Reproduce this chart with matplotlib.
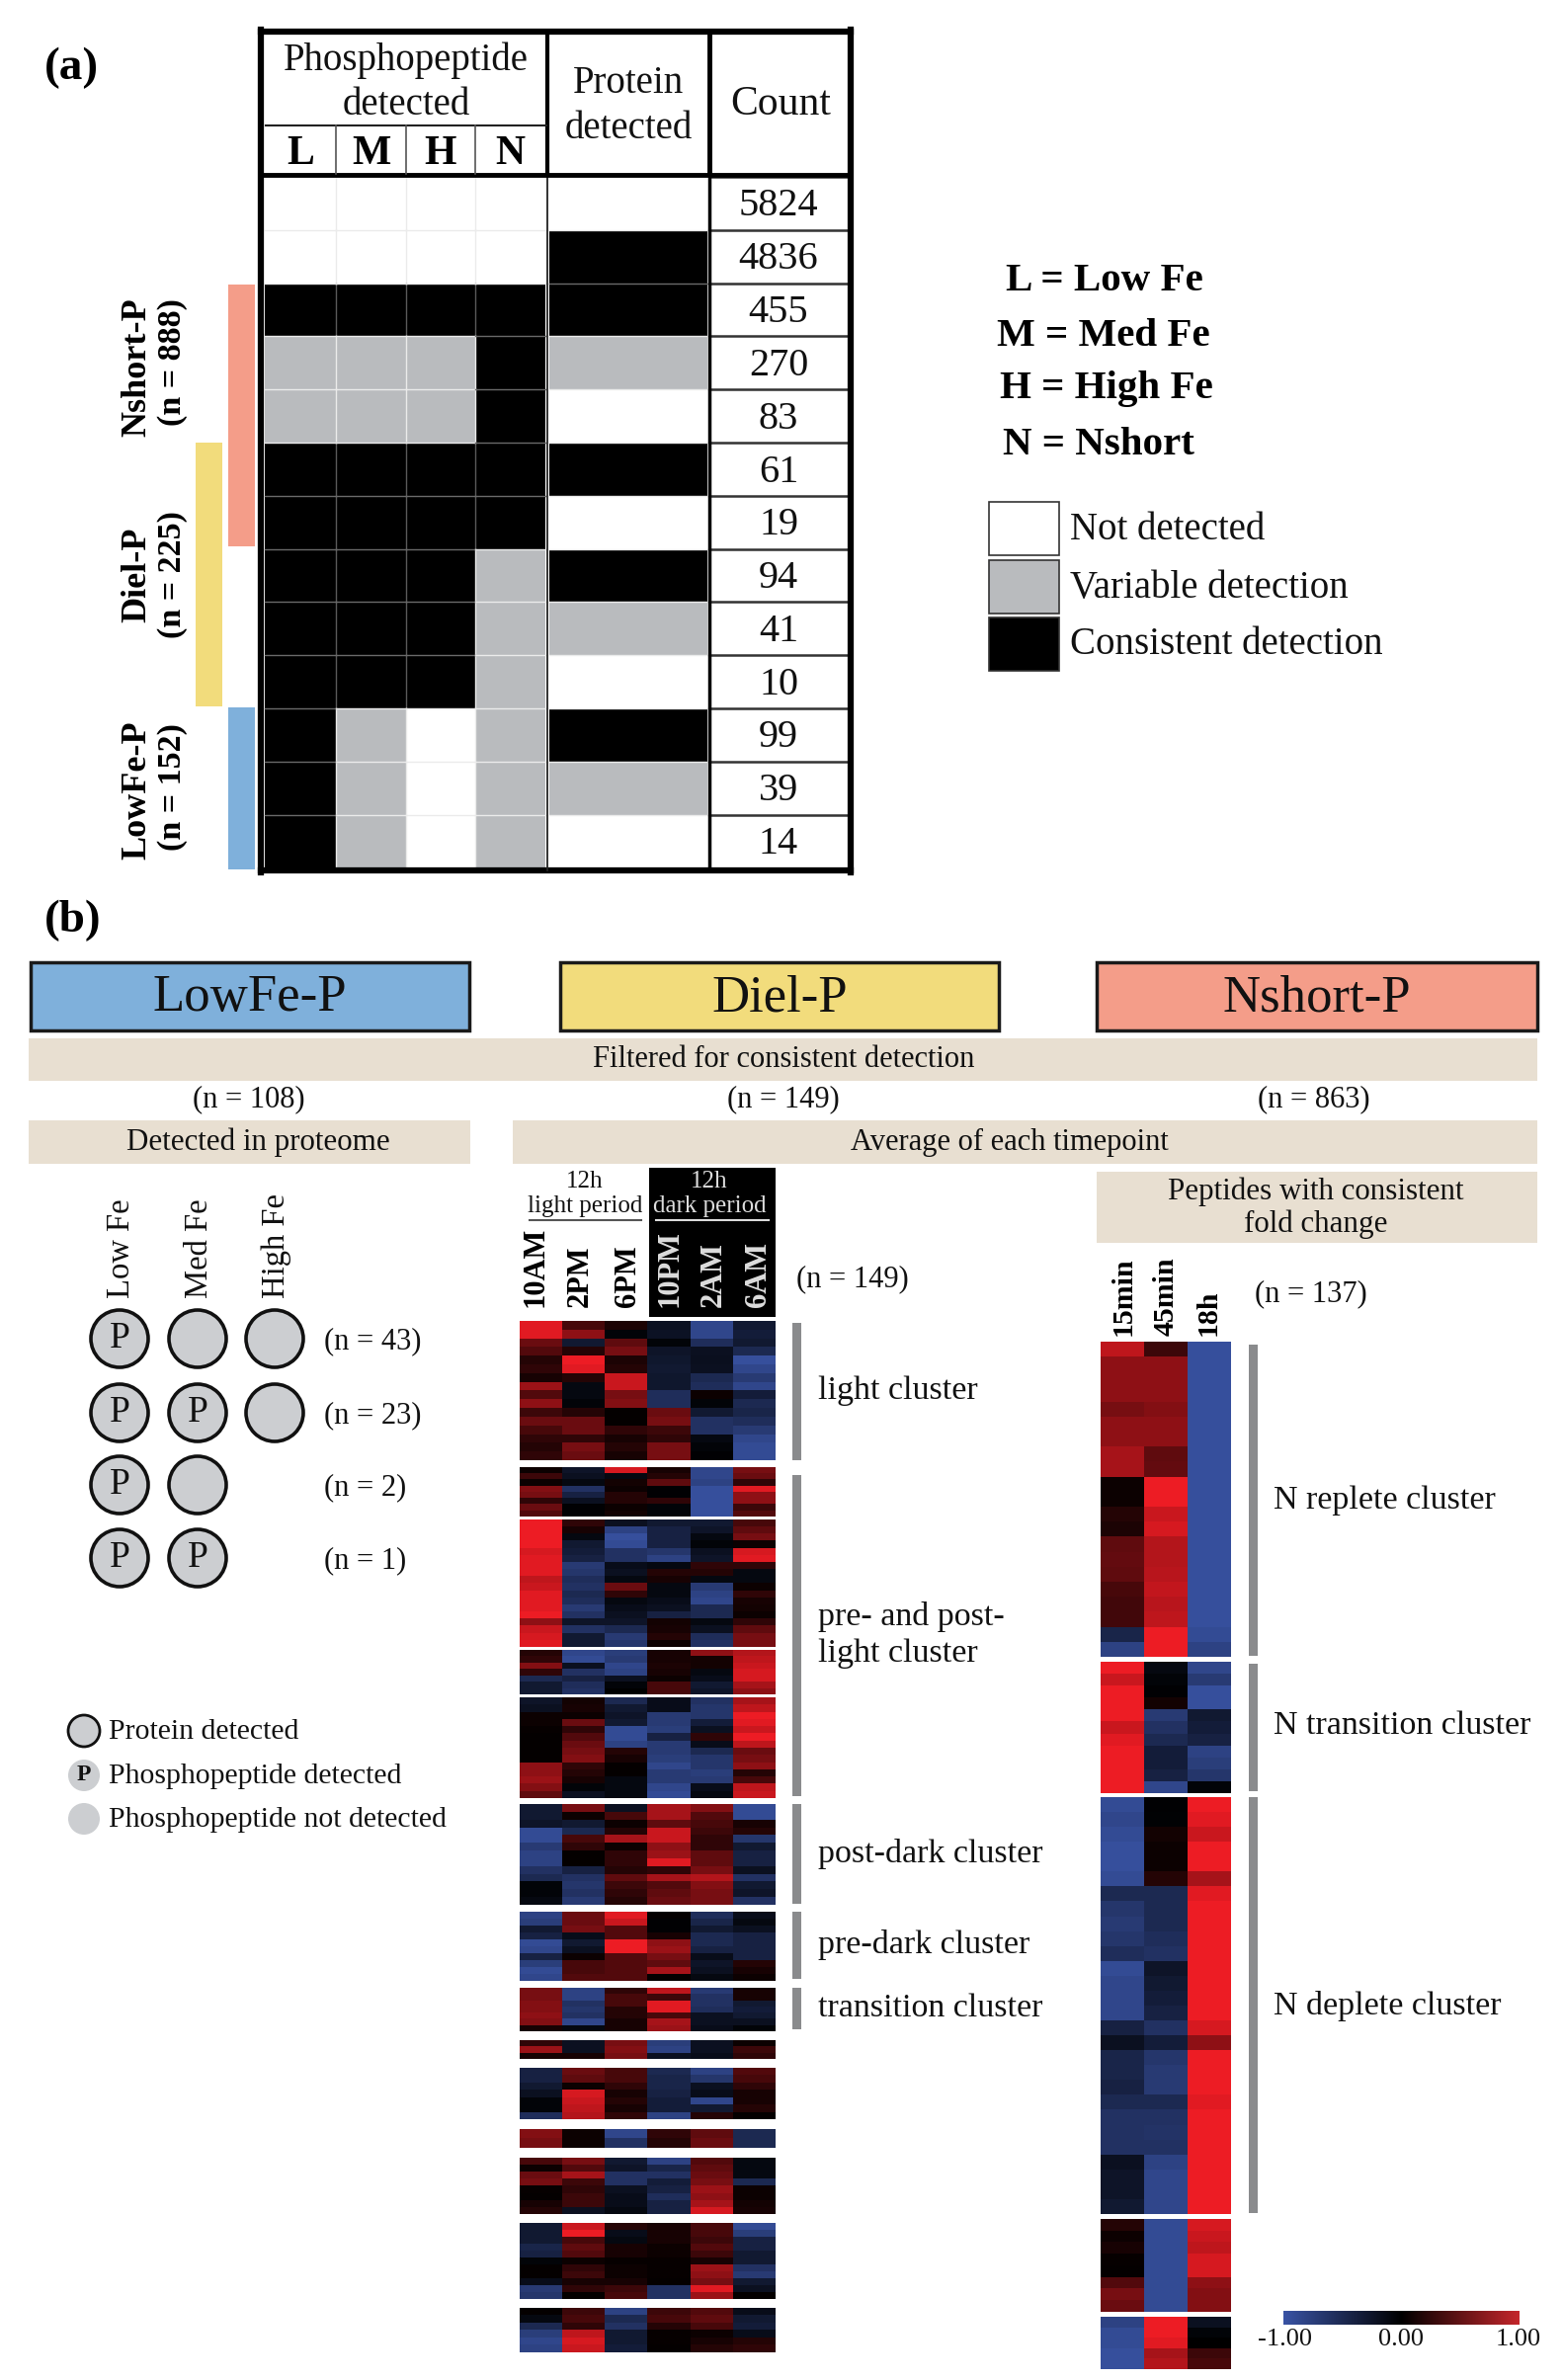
import numpy as np
import matplotlib
matplotlib.use('Agg')
import matplotlib.pyplot as plt
from matplotlib.colors import LinearSegmentedColormap
from matplotlib.patches import Rectangle, Ellipse

plt.rcParams['font.family'] = ['Liberation Serif', 'DejaVu Serif']

# panel a
count_values = [5824, 4836, 455, 270, 83, 61, 19, 94, 41, 10, 99, 39, 14]
# 0 not detected, 1 variable, 2 consistent  (L, M, H, N, protein)
detect_rows = [
    [0, 0, 0, 0, 0],
    [0, 0, 0, 0, 2],
    [2, 2, 2, 2, 2],
    [1, 1, 1, 2, 1],
    [1, 1, 1, 2, 0],
    [2, 2, 2, 2, 2],
    [2, 2, 2, 2, 0],
    [2, 2, 2, 1, 2],
    [2, 2, 2, 1, 1],
    [2, 2, 2, 1, 0],
    [2, 1, 0, 1, 2],
    [2, 1, 0, 1, 1],
    [2, 1, 0, 1, 0],
]
fe_labels = ['L = Low Fe', 'M = Med Fe', 'H = High Fe', 'N = Nshort']
detect_labels = ['Not detected', 'Variable detection', 'Consistent detection']

# panel b left
fe_columns = ['Low Fe', 'Med Fe', 'High Fe']
circle_rows = [['P', '', ''], ['P', 'P', ''], ['P', ''], ['P', 'P']]
circle_n = ['(n = 43)', '(n = 23)', '(n = 2)', '(n = 1)']

# diel heatmap, columns 10AM 2PM 6PM 10PM 2AM 6AM
diel_times = ['10AM', '2PM', '6PM', '10PM', '2AM', '6AM']
diel_1 = [
    [.95, .3, .12, -.2, -.85, -.3], [.95, .6, -.05, -.22, -.85, -.35],
    [.45, -.3, .4, -.05, -.55, -.3], [.35, .15, .5, -.25, -.2, -.5],
    [.15, 1, .12, -.28, -.18, -.95], [.2, .95, .15, -.3, -.2, -.85],
    [.1, .15, .85, -.28, -.5, -.7], [.65, -.1, .85, -.28, -.55, -.85],
    [.35, -.1, .5, -.55, .05, -.35], [.6, -.05, .55, -.55, -.05, -.5],
    [.25, .15, .02, .45, -.3, -.45], [.45, .45, .02, .5, -.6, -.55],
    [.3, .45, .2, .25, -.6, -.7], [.2, .2, .1, .2, -.1, -.85],
    [.15, .5, .15, .5, -.05, -.9], [.2, .45, .1, .5, -.02, -.9],
]
diel_2 = [
    [.05, -.25, .9, .1, -.85, .5], [.25, -.2, -.1, .15, -.85, .45],
    [.05, -.1, .08, .4, -.8, .2], [.55, -.6, .05, -.02, -.95, .95],
    [.5, -.4, .15, -.02, -.95, .6], [.2, -.2, .15, .2, -.95, .6],
    [.45, -.02, .05, -.05, -.95, .25], [.35, -.02, .08, -.05, -.95, .35],
]
diel_3 = [
    [1, .2, -.2, -.3, -.3, .3], [1, .1, -.8, -.4, -.25, .4],
    [1, -.1, -.95, -.4, -.1, .5], [1, -.3, -.9, -.4, -.05, .05],
    [.9, -.35, -.6, -.65, -.2, .9], [.95, -.4, -.6, -.8, -.25, .95],
    [.95, -.7, -.15, -.1, .2, .2], [.95, -.65, -.2, .15, .15, -.1],
    [.8, -.55, -.1, .1, -.1, -.1], [.85, -.6, .45, -.1, -.7, .05],
    [.95, -.5, .2, -.1, -.8, .2], [.95, -.55, -.1, -.15, -.85, .1],
    [.95, -.7, -.15, -.2, -.5, .08], [1, -.6, -.2, -.4, -.5, .05],
    [.6, -.25, -.25, .08, -.1, .2], [.85, -.6, -.5, .1, -.2, .4],
    [.9, -.3, -.7, .15, -.55, .5], [.95, -.3, -.65, .05, -.6, .5],
]
diel_4 = [
    [.15, -.85, -.75, .1, .6, .75], [.2, -.9, -.7, .1, .08, .8],
    [.55, -.2, -.85, .12, .08, .85], [.2, -.6, -.8, .1, -.1, .9],
    [-.5, -.4, -.2, .05, -.15, .9], [-.3, -.55, -.05, .3, -.3, .7],
    [-.3, -.6, 0, .3, -.25, .6],
]
diel_5 = [
    [-.25, .08, -.5, -.15, -.6, .7], [-.2, .1, -.3, -.15, -.65, .8],
    [.05, .05, -.25, -.7, -.65, 1], [.05, .45, -.3, -.7, -.35, .95],
    [.03, .2, -.9, -.75, -.2, .85], [.02, .35, -.9, -.4, .2, 1],
    [.02, .45, -.8, -.7, -.15, .8], [.02, .5, .15, -.7, -.5, .45],
    [.02, .55, .1, -.75, -.65, .5], [.6, .2, .02, -.85, -.65, .6],
    [.6, .15, .02, -.7, -.75, .15], [.65, .1, -.1, -.7, -.7, .3],
    [.55, -.05, -.1, -.85, -.15, .8], [.4, -.2, -.1, -.9, -.1, .85],
]
diel_6 = [
    [-.3, .5, -.2, .7, .55, -.9], [-.3, .05, .3, .7, .35, -.9],
    [-.25, -.3, .05, .4, .3, .1], [-.9, -.5, .15, .85, .25, .15],
    [-.9, .3, .7, .85, .2, -.65], [-.7, .2, .05, .6, .2, -.3],
    [-.8, .02, .2, .65, .4, -.4], [-.8, .02, .2, .95, .4, -.4],
    [-.6, -.4, .15, .2, .5, -.2], [-.5, -.6, .4, .7, .75, -.6],
    [-.05, -.65, .25, .35, .55, -.3], [-.05, -.6, .2, .4, .5, -.25],
    [-.1, -.7, .15, .45, .5, -.6],
]
diel_7 = [
    [-.8, .45, .95, .02, -.55, -.15], [-.75, .45, .85, -.02, -.45, -.1],
    [-.3, .5, .35, -.02, -.3, -.2], [-.4, -.15, .35, .1, -.5, -.4],
    [-.9, -.3, 1, .6, -.5, -.4], [-.85, -.2, 1, .65, -.4, -.4],
    [-.4, .05, .35, .5, -.15, -.4], [-.75, .3, .35, .4, -.25, .15],
    [-.9, .3, .35, .7, -.2, .1], [-.85, .35, .35, .02, -.1, .05],
]
diel_8 = [
    [.5, -.8, .2, .8, -.7, .1], [.5, -.8, .3, .25, -.6, .1],
    [.55, -.6, .3, .95, -.6, -.3], [.55, -.65, .15, .95, -.55, -.35],
    [.6, -.6, .15, .3, -.2, -.3], [.55, -.85, .1, .7, -.2, -.2],
    [.1, -.1, .1, .65, -.15, -.05],
]
diel_9 = [
    [.2, -.2, .5, -.75, -.2, .05], [.65, -.2, .55, -.8, -.2, .25],
    [.1, .1, .5, -.2, -.15, .2],
]
diel_10 = [
    [-.4, .45, .3, -.5, -.8, .35], [-.4, .4, .3, -.45, -.65, .3],
    [-.3, .05, .2, -.45, -.2, .2], [-.2, .9, .1, -.4, -.15, .1],
    [-.05, .85, .15, -.35, -.85, .1], [-.05, .8, .1, -.35, -.3, .15],
    [-.55, .75, .2, -.8, .15, .02],
]
diel_11 = [[.55, .05, -.85, .2, .4, -.5], [.5, .05, -.6, .15, .45, -.5]]
diel_12 = [
    [.3, .5, -.3, -.8, .35, -.1], [.05, .35, -.25, -.45, .4, -.1],
    [.45, .7, -.6, -.6, .45, -.1], [.5, .25, -.6, -.35, .5, -.5],
    [.03, .2, -.2, -.4, .65, .05], [.02, .25, -.15, -.55, .6, .05],
    [.1, .25, -.15, -.4, .7, .08], [.15, -.2, -.1, -.4, .9, .1],
]
diel_13 = [
    [-.3, .85, .15, .1, .3, -.9], [-.3, 1, -.15, .1, .3, -.75],
    [-.3, .3, -.1, .1, .25, -.4], [-.45, .4, .1, .05, .35, -.4],
    [-.4, .35, .1, .05, .25, -.3], [-.05, .05, .03, .03, .1, -.3],
    [.02, .2, .05, .03, .65, -.6], [.02, .25, .05, .03, .6, -.7],
    [-.15, .1, .1, .02, .5, -.3], [-.7, .2, .25, -.6, .95, -.2],
    [-.65, .02, .3, -.6, .65, .02],
]
diel_14 = [
    [.02, .25, -.8, .25, .35, -.15], [-.1, .3, -.5, .3, .4, -.3],
    [-.5, .2, -.6, .15, .3, -.35], [-.75, .8, -.3, .03, .05, -.15],
    [-.85, .9, -.3, .03, .1, .15], [-.8, .85, -.35, .02, .15, .2],
]

# nshort heatmap, columns 15min 45min 18h
nshort_times = ['15min', '45min', '18h']
nshort_1 = [
    [.8, .25, -.95], [.6, .6, -.95], [.6, .6, -.95], [.6, .6, -.95], [.5, .55, -.95],
    [.6, .6, -.95], [.6, .6, -.95], [.7, .4, -.95], [.7, .42, -.95], [.05, 1, -.95],
    [.05, 1, -.95], [.15, .85, -.95], [.12, .9, -.95], [.4, .75, -.95], [.42, .75, -.95],
    [.4, .78, -.95], [.3, .82, -.95], [.28, .78, -.95], [.28, .8, -.95], [-.45, 1, -.9],
    [-.8, 1, -.8],
]
nshort_2 = [
    [1, -.1, -.85], [.85, -.05, -.7], [1, -.02, -.95], [1, .08, -.95], [1, -.7, -.3],
    [.85, -.6, -.35], [.95, -.5, -.4], [1, -.35, -.8], [1, -.35, -.75], [1, -.4, -.65],
    [1, -.85, -.05],
]
nshort_3 = [
    [-.9, -.02, 1], [-.85, -.03, .95], [-.9, .08, .85], [-.95, .05, 1], [-.95, .05, 1],
    [-.9, .15, .7], [-.5, -.5, .95], [-.65, -.5, 1], [-.7, -.5, 1], [-.65, -.55, 1],
    [-.55, -.6, 1], [-.9, -.25, 1], [-.85, -.3, 1], [-.85, -.35, 1], [-.85, -.4, 1],
    [-.4, -.6, .9], [-.2, -.35, .6], [-.45, -.65, 1], [-.45, -.7, 1], [-.4, -.7, 1],
    [-.5, -.5, .95], [-.6, -.6, 1], [-.6, -.62, 1], [-.6, -.6, 1], [-.2, -.8, 1],
    [-.25, -.85, 1], [-.25, -.85, 1], [-.3, -.85, 1],
]
nshort_4 = [
    [.15, -.9, .9], [.05, -.9, .85], [.1, -.9, .8], [.03, -.9, .9], [.02, -.9, .9],
    [.35, -.9, .6], [.5, -.9, .55], [.45, -.9, .55],
]
nshort_5 = [[-.8, 1, -.2], [-.9, 1, -.05], [-.9, .95, 0], [-.95, .7, .25], [-.95, .75, .3]]

diel_blocks = [diel_1, diel_2, diel_3, diel_4, diel_5, diel_6, diel_7, diel_8, diel_9,
               diel_10, diel_11, diel_12, diel_13, diel_14]
diel_spans = [(1337, 1478), (1485, 1535), (1538, 1667), (1670, 1715), (1718, 1820),
              (1826, 1928), (1935, 2005), (2012, 2056), (2065, 2084), (2093, 2145),
              (2155, 2174), (2184, 2241), (2250, 2327), (2336, 2381)]
nshort_blocks = [nshort_1, nshort_2, nshort_3, nshort_4, nshort_5]
nshort_spans = [(1358, 1677), (1682, 1815), (1819, 2241), (2246, 2340), (2345, 2398)]

BLUE = '#3953A4'
RED = '#ED1C24'
heat = LinearSegmentedColormap.from_list('heat', [BLUE, '#000000', RED])
scale = LinearSegmentedColormap.from_list('scale', [BLUE, '#000000', '#C4262B'])

fig = plt.figure(figsize=(15.82, 24.09), dpi=100)
ax = fig.add_axes([0, 0, 1, 1])


def txt(x, y, s, size=24, ha='center', va='center', **kw):
    # text sits a little high with this font, nudge it
    if 'rotation' in kw:
        x = x + 2
    else:
        y = y + 3
    ax.text(x, y, s, fontsize=size, ha=ha, va=va, color=kw.pop('color', '#111111'), **kw)


def box(x0, y0, x1, y1, fc, ec='none', lw=0, z=1):
    ax.add_patch(Rectangle((x0, y0), x1 - x0, y1 - y0, fc=fc, ec=ec, lw=lw, zorder=z))


def heatmap(rows, x0, x1, y0, y1):
    ax.imshow(np.array(rows), cmap=heat, vmin=-1, vmax=1, aspect='auto',
              interpolation='nearest', extent=(x0, x1, y1, y0), zorder=2)


# ---- panel a ----
txt(72, 66, '(a)', 34, weight='bold', color='black')
col_x = [268, 340, 411, 481, 551.5]
prot_x = [556, 716]
row_y = [179 + i * 53.8 for i in range(14)]
cell_col = {0: 'white', 1: '#B9BBBE', 2: 'black'}
for i, r in enumerate(detect_rows):
    for j, v in enumerate(r[:4]):
        box(col_x[j], row_y[i], col_x[j + 1], row_y[i + 1], cell_col[v])
    box(prot_x[0], row_y[i], prot_x[1], row_y[i + 1], cell_col[r[4]])
    for j in range(3):
        dark = r[j] == 2 and r[j + 1] == 2
        ax.plot([col_x[j + 1]] * 2, [row_y[i], row_y[i + 1]],
                color='#5a5a5a' if dark else '#ebebeb', lw=1, zorder=3)
    txt(788, row_y[i] + 27, str(count_values[i]), 29)
    ax.plot([718, 858], [row_y[i]] * 2, color='#333333', lw=1.8, zorder=3)
    if i > 0:
        for j in range(4):
            dark = r[j] == 2 and detect_rows[i - 1][j] == 2
            ax.plot(col_x[j:j + 2], [row_y[i]] * 2, color='#6a6a6a' if dark else '#ebebeb', lw=1, zorder=3)
        dark = r[4] == 2 and detect_rows[i - 1][4] == 2
        ax.plot(prot_x, [row_y[i]] * 2, color='#6a6a6a' if dark else '#ebebeb', lw=1, zorder=3)

for xa in (264, 861):
    ax.plot([xa, xa], [30, 883], color='black', lw=4.5, zorder=5)
for ya in (32, 881):
    ax.plot([264, 861], [ya, ya], color='black', lw=4.5, zorder=5)
ax.plot([718, 718], [32, 176], color='black', lw=3.5, zorder=5)
ax.plot([718, 718], [176, 881], color='black', lw=2.5, zorder=5)
ax.plot([554, 554], [32, 176], color='black', lw=3, zorder=5)
ax.plot([554, 554], [176, 881], color='#222222', lw=1.3, zorder=5)
ax.plot([264, 861], [177, 177], color='black', lw=3.5, zorder=5)
ax.plot([269, 553], [127, 127], color='#222222', lw=1.5, zorder=5)
for xa in col_x[1:4]:
    ax.plot([xa, xa], [127, 176], color='#555555', lw=1.2, zorder=5)
txt(411, 58, 'Phosphopeptide', 28)
txt(411, 103, 'detected', 28)
txt(636, 81, 'Protein', 28)
txt(636, 127, 'detected', 28)
txt(790, 103, 'Count', 30)
for j, lab in enumerate(['L', 'M', 'H', 'N']):
    txt((col_x[j] + col_x[j + 1]) / 2, 153, lab, 30, weight='bold', color='black')

box(231, 288, 258, 553, '#F49D89')
box(198, 448, 225, 715, '#F2DC7C')
box(231, 716, 258, 880, '#7FB0DB')
side = [('Nshort-P', '(n = 888)', 372, 367), ('Diel-P', '(n = 225)', 582, 582),
        ('LowFe-P', '(n = 152)', 800, 797)]
for a, b, ya, yb in side:
    txt(137, ya, a, 26, rotation=90, weight='bold', color='black')
    txt(172, yb, b, 24.5, rotation=90, weight='bold', color='black')

for lab, x, y in zip(fe_labels, [1118, 1117, 1120, 1112], [282, 337, 390, 447]):
    txt(x, y, lab, 29.5, weight='bold', color='black')
for lab, y0, fc in zip(detect_labels, [508, 567, 625], ['white', '#B9BBBE', 'black']):
    box(1001, y0, 1072, y0 + 54, fc, ec='#333333', lw=1.2)
    txt(1083, y0 + 25, lab, 28, ha='left')

# ---- panel b header ----
txt(74, 929, '(b)', 34, weight='bold', color='black')
for lab, x0, x1, fc in [('LowFe-P', 31, 475, '#7FB0DB'), ('Diel-P', 567, 1011, '#F2DC7C'),
                        ('Nshort-P', 1110, 1556, '#F49D89')]:
    box(x0, 974, x1, 1043, fc, ec='#1a1a1a', lw=2.5)
    txt((x0 + x1) / 2, 1007, lab, 38)
BEIGE = '#E8DFD1'
box(29, 1051, 1556, 1094, BEIGE)
txt(793, 1069, 'Filtered for consistent detection', 22)
for lab, x in [('(n = 108)', 252), ('(n = 149)', 793), ('(n = 863)', 1330)]:
    txt(x, 1110, lab, 22)
box(29, 1134, 476, 1178, BEIGE)
txt(261, 1153, 'Detected in proteome', 22.3)
box(519, 1134, 1556, 1178, BEIGE)
txt(1022, 1153, 'Average of each timepoint', 22)
box(1110, 1186, 1556, 1258, BEIGE)
txt(1332, 1203, 'Peptides with consistent', 22.3)
txt(1332, 1236, 'fold change', 22.3)

# ---- left circles ----
circle_x = [121, 200, 278]
circle_y = [1355, 1430, 1503, 1577]
for x, lab in zip(circle_x, fe_columns):
    txt(x, 1314, lab, 23.5, rotation=90, va='bottom')
for y, r, n in zip(circle_y, circle_rows, circle_n):
    for x, v in zip(circle_x, r):
        ax.add_patch(Ellipse((x, y), 58, 58, fc='#CCCED1', ec='#111111', lw=2.6, zorder=3))
        if v:
            txt(x, y - 3, v, 27, zorder=4)
    txt(328, y, n, 22, ha='left')

legend_y = [1752, 1797, 1841]
ax.add_patch(Ellipse((85, legend_y[0]), 32, 32, fc='#CCCED1', ec='#111111', lw=2, zorder=3))
ax.add_patch(Ellipse((85, legend_y[1]), 32, 32, fc='#CCCED1', ec='none', zorder=3))
txt(85, legend_y[1] - 3, 'P', 17, weight='bold', zorder=4)
ax.add_patch(Ellipse((85, legend_y[2]), 32, 32, fc='#CCCED1', ec='none', zorder=3))
for y, lab in zip(legend_y, ['Protein detected', 'Phosphopeptide detected', 'Phosphopeptide not detected']):
    txt(110, y - 2, lab, 21.4, ha='left')

# ---- diel heatmap ----
box(657, 1182, 785, 1333, 'black')
txt(592, 1193, '12h', 18)
txt(592, 1218, 'light period', 18)
ax.plot([536, 649], [1235, 1235], color='#555555', lw=1.5)
txt(718, 1193, '12h', 18, color='#dddddd')
txt(718, 1218, 'dark period', 18, color='#dddddd')
ax.plot([664, 778], [1235, 1235], color='#dddddd', lw=1.5)
for lab, x in zip(diel_times, [540, 585, 633, 676, 720, 765]):
    txt(x, 1323, lab, 22, rotation=90, va='bottom', weight='bold',
        color='#dddddd' if lab in diel_times[3:] else 'black')
txt(806, 1292, '(n = 149)', 22, ha='left')
for rows, (y0, y1) in zip(diel_blocks, diel_spans):
    heatmap(rows, 526, 785, y0, y1)

for y0, y1 in [(1339, 1478), (1493, 1818), (1826, 1927), (1935, 2003), (2012, 2054)]:
    box(802, y0, 811, y1, '#8A8B8D')
for lab, y in [('light cluster', 1405), ('pre- and post-', 1634), ('light cluster', 1671),
               ('post-dark cluster', 1873), ('pre-dark cluster', 1966), ('transition cluster', 2030)]:
    txt(828, y, lab, 24.5, ha='left')

# ---- nshort heatmap ----
for lab, x in zip(nshort_times, [1135, 1178, 1221]):
    txt(x, 1352, lab, 21.5, rotation=90, va='bottom', weight='bold', color='black')
txt(1270, 1307, '(n = 137)', 22, ha='left')
for rows, (y0, y1) in zip(nshort_blocks, nshort_spans):
    heatmap(rows, 1114, 1246, y0, y1)
for y0, y1 in [(1361, 1676), (1684, 1813), (1819, 2240)]:
    box(1264, y0, 1273, y1, '#8A8B8D')
for lab, y in [('N replete cluster', 1516), ('N transition cluster', 1744), ('N deplete cluster', 2027)]:
    txt(1289, y, lab, 24.5, ha='left')

# colour scale
scale_ticks = [-1, 0, 1]
ax.imshow(np.linspace(-1, 1, 256).reshape(1, -1), cmap=scale, vmin=-1, vmax=1, aspect='auto',
          extent=(1299, 1538, 2353, 2339), zorder=2)
for v, x in zip(scale_ticks, [1301, 1418, 1537]):
    txt(x, 2365, f'{v:.2f}', 19)

ax.set_xlim(0, 1582)
ax.set_ylim(2409, 0)
ax.axis('off')
fig.savefig('out.png', dpi=100, facecolor='white')
